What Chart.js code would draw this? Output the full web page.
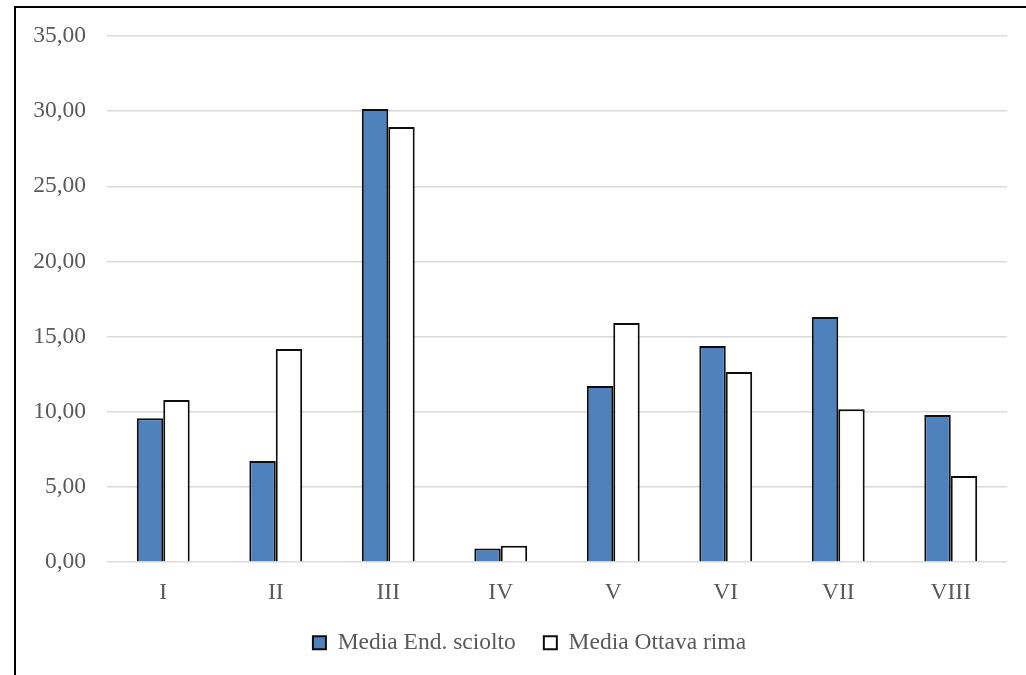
<!DOCTYPE html>
<html>
<head>
<meta charset="utf-8">
<script src="https://cdn.jsdelivr.net/npm/chart.js@4"></script>
<style>
  html, body { margin: 0; padding: 0; background: #fff; overflow: hidden; }
  #wrap { position: relative; width: 1026px; height: 675px; }
  #frame { position: absolute; left: 14px; top: 6px; width: 1100px; height: 800px; border: 2px solid #000; box-sizing: border-box; pointer-events: none; }
  canvas { position: absolute; left: 0; top: 0; }
</style>
</head>
<body>
<div id="wrap">
  <canvas id="c" width="1026" height="675"></canvas>
  <div id="frame"></div>
</div>
<script>
const categories = ['I', 'II', 'III', 'IV', 'V', 'VI', 'VII', 'VIII'];
const endSciolto = [9.56, 6.72, 30.15, 0.89, 11.71, 14.37, 16.30, 9.78];
const ottavaRima = [10.78, 14.17, 28.94, 1.08, 15.90, 12.64, 10.17, 5.72];
const seriesNames = ['Media End. sciolto', 'Media Ottava rima'];
const yTickLabels = ['0,00', '5,00', '10,00', '15,00', '20,00', '25,00', '30,00', '35,00'];

const FONT = "'Liberation Serif', 'Times New Roman', serif";
const GRAY = '#595959';

const shiftLegend = {
  id: 'shiftLegend',
  afterLayout(chart) {
    const lg = chart.legend;
    if (lg) { lg.left += 26; lg.right += 26; }
  }
};

new Chart(document.getElementById('c'), {
  type: 'bar',
  data: {
    labels: categories,
    datasets: [
      { label: seriesNames[0], data: endSciolto, backgroundColor: '#4F81BD', borderColor: '#0d0d0d', borderWidth: 2 },
      { label: seriesNames[1], data: ottavaRima, backgroundColor: '#FFFFFF', borderColor: '#0d0d0d', borderWidth: 2 }
    ]
  },
  plugins: [shiftLegend],
  options: {
    responsive: false,
    animation: false,
    devicePixelRatio: 1,
    layout: { padding: { left: 0, right: 19, top: 36, bottom: 10.5 } },
    datasets: { bar: { categoryPercentage: 0.47, barPercentage: 1.0 } },
    plugins: {
      legend: {
        position: 'bottom',
        labels: {
          font: { family: FONT, size: 23.5 },
          color: GRAY,
          boxWidth: 13,
          boxHeight: 13,
          padding: 28
        }
      },
      tooltip: { enabled: false }
    },
    scales: {
      x: {
        afterFit: (s) => { s.height = 41; },
        grid: { display: false },
        border: { display: false },
        ticks: { font: { family: FONT, size: 23.5 }, color: GRAY, padding: 9, maxRotation: 0 }
      },
      y: {
        min: 0, max: 35,
        afterFit: (s) => { s.width = 107; },
        grid: { color: '#d9d9d9', lineWidth: 1.5, drawTicks: false },
        border: { display: false },
        ticks: {
          stepSize: 5,
          padding: 21,
          font: { family: FONT, size: 23.5 },
          color: GRAY,
          callback: (v, i) => yTickLabels[i]
        }
      }
    }
  }
});
</script>
</body>
</html>
